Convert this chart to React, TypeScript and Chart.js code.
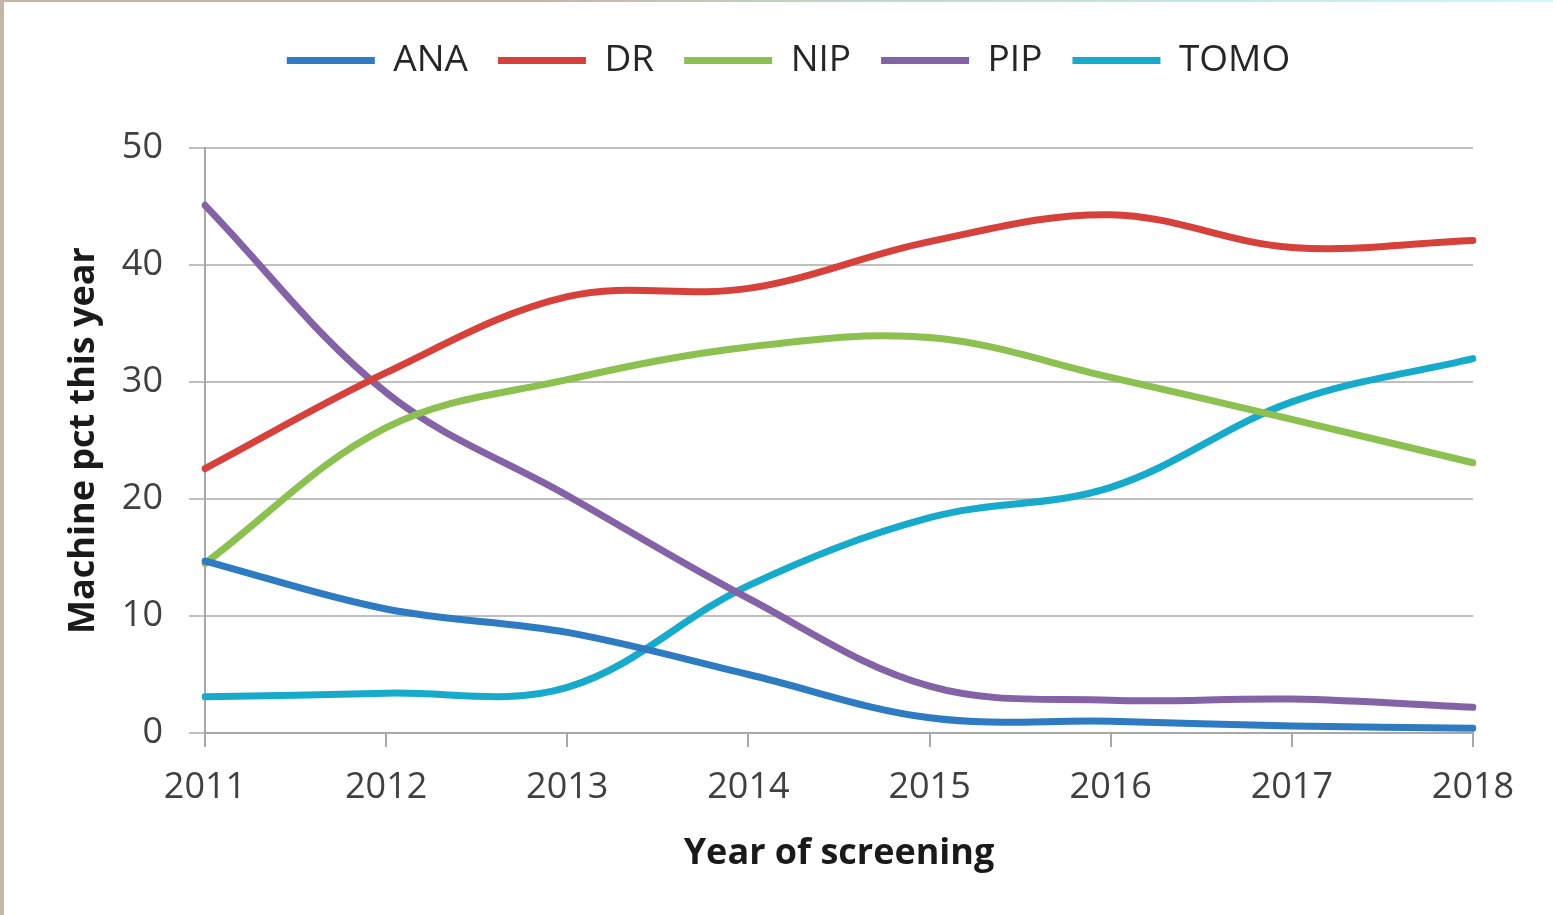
import React, { useEffect, useRef } from 'react';
import { Chart, registerables } from 'chart.js';

Chart.register(...registerables);

const years = ['2011', '2012', '2013', '2014', '2015', '2016', '2017', '2018'];
const ana = [14.7, 10.6, 8.6, 5.0, 1.3, 1.0, 0.6, 0.4];
const dr = [22.6, 30.8, 37.3, 38.0, 42.0, 44.3, 41.5, 42.1];
const nip = [14.5, 26.1, 30.2, 33.0, 33.8, 30.4, 26.8, 23.1];
const pip = [45.1, 29.1, 20.3, 11.5, 4.0, 2.8, 2.9, 2.2];
const tomo = [3.1, 3.4, 3.9, 12.6, 18.4, 21.0, 28.3, 32.0];

const seriesNames = ['ANA', 'DR', 'NIP', 'PIP', 'TOMO'];
const seriesColors = ['#2E7BC1', '#D6413C', '#8CC050', '#8462A6', '#18AACB'];
const seriesValues = [ana, dr, nip, pip, tomo];

const FONT = "'Open Sans', 'Liberation Sans', sans-serif";
const GRID = '#BFBFBF';
const AXIS = '#A8A8A8';

const legendTweak = {
  id: 'legendTweak',
  beforeLayout(chart: any) {
    const lg = chart.legend;
    if (lg && !lg.__patched) {
      const orig = lg.fit.bind(lg);
      lg.fit = function () {
        orig();
        this.height += 59;
      };
      lg.__patched = true;
    }
  },
  afterLayout(chart: any) {
    const lg = chart.legend;
    if (lg) {
      lg.left += 52;
      lg.right += 52;
    }
  },
};

export default function App() {
  const ref = useRef<HTMLCanvasElement | null>(null);

  useEffect(() => {
    document.body.style.margin = '0';
    const canvas = ref.current;
    if (!canvas) return;
    const chart = new Chart(canvas, {
      type: 'line',
      data: {
        labels: years,
        datasets: seriesNames.map((name, i) => ({
          label: name,
          data: seriesValues[i],
          borderColor: seriesColors[i],
          backgroundColor: seriesColors[i],
          borderWidth: 7,
          borderCapStyle: 'round' as const,
          borderJoinStyle: 'round' as const,
          pointRadius: 0,
          pointHoverRadius: 0,
          tension: 0.36,
          fill: false,
        })),
      },
      options: {
        animation: false,
        responsive: false,
        maintainAspectRatio: false,
        devicePixelRatio: 1,
        layout: { padding: { left: 0, right: 80, top: 12, bottom: 0 } },
        plugins: {
          tooltip: { enabled: false },
          legend: {
            position: 'top',
            align: 'center',
            labels: {
              usePointStyle: true,
              pointStyle: 'line',
              pointStyleWidth: 88,
              padding: 30,
              color: '#262626',
              font: { family: FONT, size: 37 },
            },
          },
        },
        scales: {
          x: {
            type: 'category',
            offset: false,
            afterFit: (scale: any) => {
              scale.height = 182;
            },
            grid: {
              display: true,
              drawOnChartArea: false,
              drawTicks: true,
              tickLength: 14,
              color: AXIS,
              lineWidth: 2,
            },
            border: { display: true, color: AXIS, width: 2 },
            ticks: {
              color: '#404040',
              padding: 19,
              maxRotation: 0,
              autoSkip: false,
              font: { family: FONT, size: 36 },
            },
            title: {
              display: true,
              text: 'Year of screening',
              color: '#1a1a1a',
              font: { family: FONT, size: 36, weight: 'bold' },
              padding: { top: 0, bottom: 40 },
            },
          },
          y: {
            min: 0,
            max: 50,
            afterFit: (scale: any) => {
              scale.width = 205;
            },
            grid: {
              display: true,
              drawOnChartArea: true,
              drawTicks: true,
              tickLength: 16,
              color: GRID,
              lineWidth: 2,
            },
            border: { display: true, color: AXIS, width: 2 },
            ticks: {
              stepSize: 10,
              color: '#404040',
              padding: 26,
              font: { family: FONT, size: 36 },
            },
            title: {
              display: true,
              text: 'Machine pct this year',
              color: '#1a1a1a',
              font: { family: FONT, size: 36, weight: 'bold' },
              padding: { top: 62, bottom: 0 },
            },
          },
        },
      },
      plugins: [legendTweak],
    } as any);
    return () => chart.destroy();
  }, []);

  return (
    <div
      style={{
        position: 'fixed',
        left: 0,
        top: 0,
        width: 1553,
        height: 915,
        background: '#ffffff',
        overflow: 'hidden',
      }}
    >
      <canvas ref={ref} width={1553} height={915} style={{ width: 1553, height: 915, display: 'block' }} />
      <div
        style={{
          position: 'absolute',
          left: 0,
          top: 0,
          width: 1553,
          height: 2,
          background: 'linear-gradient(to right, #C4B7A9 0%, #C4B7A9 35%, #C2D6CC 55%, #CDF8FA 100%)',
        }}
      />
      <div style={{ position: 'absolute', left: 0, top: 0, width: 4, height: 915, background: '#C4B7A9' }} />
    </div>
  );
}
